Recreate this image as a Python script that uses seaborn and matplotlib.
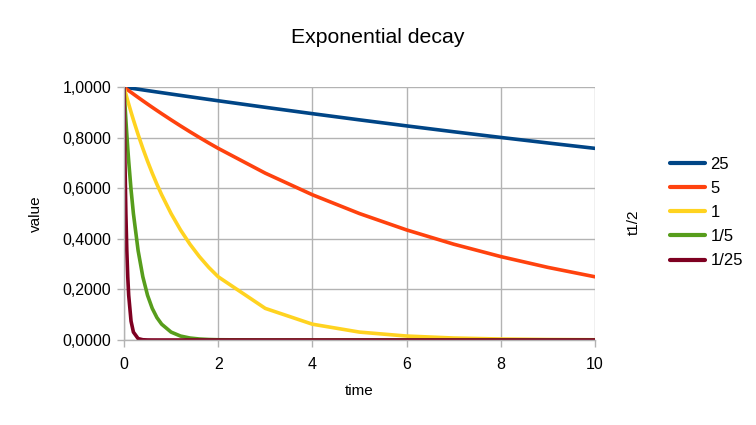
import matplotlib
matplotlib.use("Agg")
import matplotlib.pyplot as plt
import seaborn as sns
import pandas as pd
from matplotlib.ticker import FuncFormatter, MultipleLocator

time = [0, 0.02, 0.04, 0.06, 0.08, 0.1, 0.15, 0.2, 0.3, 0.4, 0.5, 0.6, 0.7, 0.8,
        1.0, 1.2, 1.4, 1.6, 1.8, 2, 3, 4, 5, 6, 7, 8, 9, 10]

s_25 = [1.0, 0.99945, 0.99889, 0.99834, 0.99778, 0.99723, 0.99585, 0.99447, 0.99172,
        0.98897, 0.98623, 0.98350, 0.98078, 0.97806, 0.97265, 0.96727, 0.96190, 0.95659,
        0.95130, 0.94606, 0.92019, 0.89503, 0.87055, 0.84672, 0.82355, 0.80101, 0.77916, 0.75786]
s_5 = [1.0, 0.99723, 0.99447, 0.99172, 0.98897, 0.98623, 0.97942, 0.97265, 0.95926,
       0.94606, 0.93303, 0.92019, 0.90752, 0.89503, 0.87055, 0.84672, 0.82355, 0.80101,
       0.77909, 0.75786, 0.65975, 0.57435, 0.5, 0.43528, 0.37893, 0.32988, 0.28717, 0.25]
s_1 = [1.0, 0.98623, 0.97265, 0.95926, 0.94606, 0.93303, 0.90125, 0.87055, 0.81225,
       0.75786, 0.70711, 0.65975, 0.61557, 0.57435, 0.5, 0.43528, 0.37893, 0.32988,
       0.28717, 0.25, 0.125, 0.0625, 0.03125, 0.01563, 0.00781, 0.00391, 0.00195, 0.00098]
s_1_5 = [1.0, 0.93303, 0.87055, 0.81225, 0.75786, 0.70711, 0.59460, 0.5, 0.35355,
         0.25, 0.17678, 0.125, 0.08839, 0.0625, 0.03125, 0.01563, 0.00781, 0.00391,
         0.00195, 0.00098, 0.00003, 0.0, 0.0, 0.0, 0.0, 0.0, 0.0, 0.0]
s_1_25 = [1.0, 0.70711, 0.5, 0.35355, 0.25, 0.17678, 0.07433, 0.03125, 0.00552,
          0.00098, 0.00017, 0.00003, 0.0, 0.0, 0.0, 0.0, 0.0, 0.0, 0.0, 0.0, 0.0,
          0.0, 0.0, 0.0, 0.0, 0.0, 0.0, 0.0]

labels = ["25", "5", "1", "1/5", "1/25"]
series = [s_25, s_5, s_1, s_1_5, s_1_25]
colors = ["#004586", "#ff420e", "#ffd320", "#579d1c", "#7e0021"]

rows = []
for lab, vals in zip(labels, series):
    for t, v in zip(time, vals):
        rows.append({"time": t, "value": v, "t1/2": lab})
df = pd.DataFrame(rows)

sns.set_style("white")
plt.rcParams["font.family"] = ["Liberation Sans", "DejaVu Sans"]
plt.rcParams["text.color"] = "black"
plt.rcParams["axes.labelcolor"] = "black"

fig = plt.figure(figsize=(7.56, 4.25), dpi=100)
ax = fig.add_axes([0.164, 0.2, 0.623, 0.595])

sns.lineplot(data=df, x="time", y="value", hue="t1/2", hue_order=labels,
             palette=colors, linewidth=2.6, ax=ax, legend=True, sort=False,
             estimator=None)

ax.set_xlim(0, 10)
ax.set_ylim(0, 1)
ax.xaxis.set_major_locator(MultipleLocator(2))
ax.yaxis.set_major_locator(MultipleLocator(0.2))
ax.yaxis.set_major_formatter(FuncFormatter(lambda v, p: f"{v:.4f}".replace(".", ",")))
ax.grid(True, color="#b3b3b3", linewidth=1)
ax.set_axisbelow(True)
for side in ["top", "right"]:
    ax.spines[side].set_visible(False)
for side in ["left", "bottom"]:
    ax.spines[side].set_color("#b3b3b3")
    ax.spines[side].set_linewidth(1)
ax.tick_params(axis="both", which="major", length=5, width=1, color="#b3b3b3",
               labelsize=11.5, labelcolor="black", direction="out")
ax.tick_params(axis="x", pad=7)
ax.tick_params(axis="y", pad=4)
ax.tick_params(bottom=True, left=True)

ax.set_xlabel("time", fontsize=11, labelpad=9)
ax.set_ylabel("value", fontsize=11, labelpad=14)

handles, labs = ax.get_legend_handles_labels()
for h in handles:
    h.set_linewidth(3)
leg = ax.legend(handles, labs, loc="center left", bbox_to_anchor=(0.866, 0.5),
                bbox_transform=fig.transFigure, frameon=False, fontsize=12,
                handlelength=2.1, handletextpad=0.35, labelspacing=0.55)
fig.text(0.838, 0.476, "t1/2", rotation=90, ha="center", va="center", fontsize=11)

fig.suptitle("Exponential decay", x=0.5, y=0.935, fontsize=15.3)

fig.savefig("out.png", dpi=100)
